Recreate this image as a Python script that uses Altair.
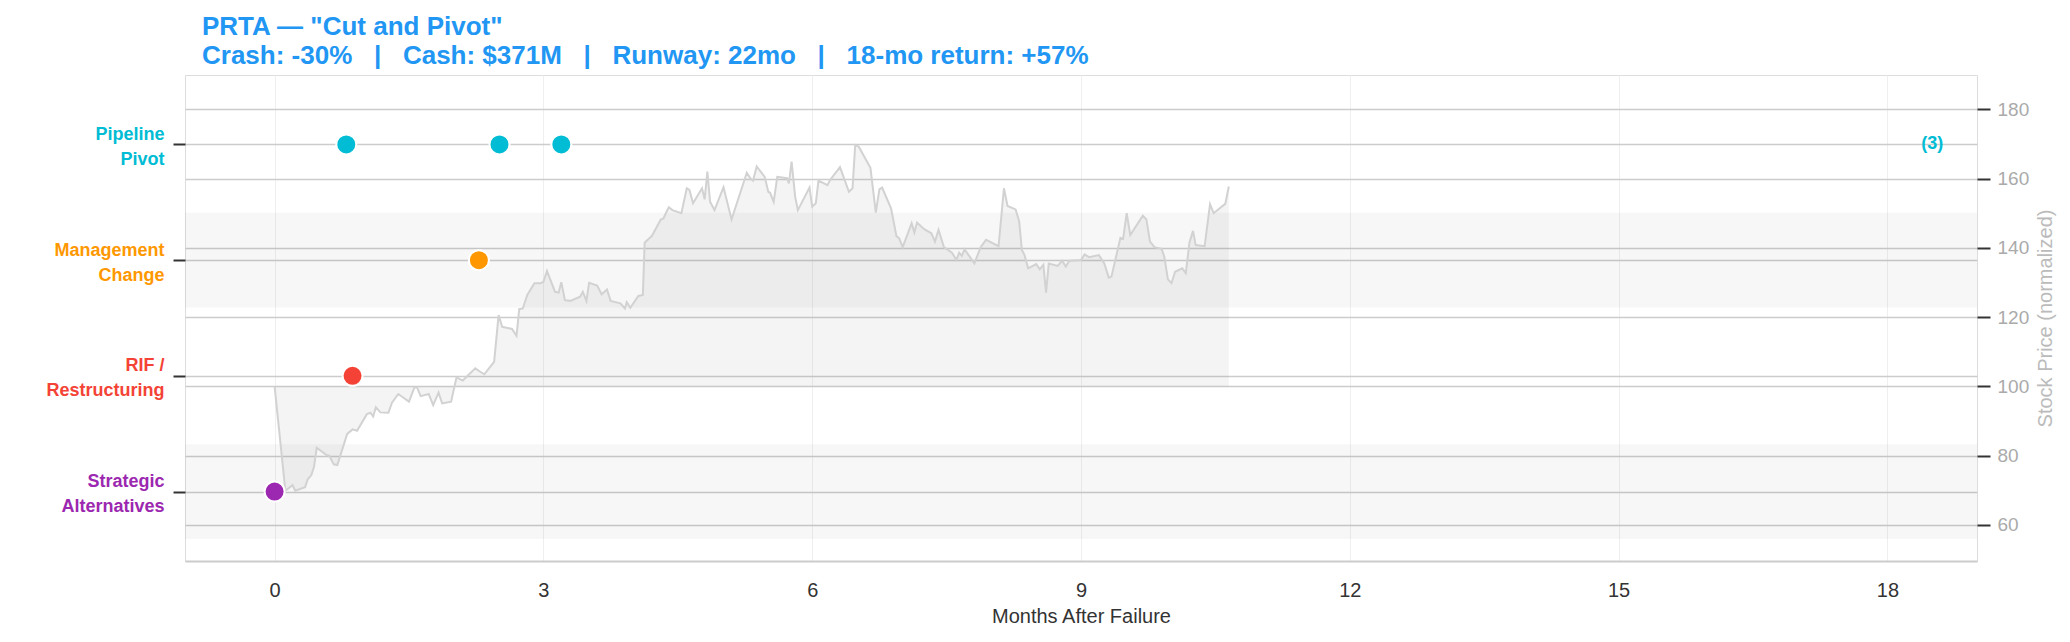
import altair as alt
import pandas as pd

FONT = "Liberation Sans"

# ---------------- data ----------------
title_lines = [
    'PRTA \u2014 "Cut and Pivot"',
    "Crash: -30%\u00a0\u00a0\u00a0|\u00a0\u00a0\u00a0Cash: $371M\u00a0\u00a0\u00a0|\u00a0\u00a0\u00a0"
    "Runway: 22mo\u00a0\u00a0\u00a0|\u00a0\u00a0\u00a018-mo return: +57%",
]

categories = ["Strategic Alternatives", "RIF / Restructuring", "Management Change", "Pipeline Pivot"]
category_lines = [["Strategic", "Alternatives"], ["RIF /", "Restructuring"],
                  ["Management", "Change"], ["Pipeline", "Pivot"]]
category_colors = ["#9C27B0", "#F44336", "#FF9800", "#00BCD4"]

event_category = ["Strategic Alternatives", "RIF / Restructuring", "Management Change",
                  "Pipeline Pivot", "Pipeline Pivot", "Pipeline Pivot"]
event_month = [0.00, 0.87, 2.28, 0.80, 2.51, 3.20]

price_month = [
    0.00, 0.12, 0.20, 0.23, 0.34, 0.37, 0.41, 0.44, 0.47, 0.58, 0.61, 0.66, 0.70, 0.81, 0.87, 0.92,
    1.03, 1.07, 1.10, 1.13, 1.18, 1.27, 1.31, 1.38, 1.50, 1.56, 1.59, 1.63, 1.72, 1.77, 1.83, 1.87,
    1.97, 2.03, 2.10, 2.24, 2.29, 2.34, 2.45, 2.50, 2.54, 2.65, 2.70, 2.73, 2.77, 2.82, 2.90, 2.97,
    3.00, 3.04, 3.13, 3.17, 3.20, 3.24, 3.30, 3.41, 3.44, 3.48, 3.51, 3.60, 3.65, 3.71, 3.75, 3.86,
    3.91, 3.93, 3.97, 4.06, 4.11, 4.13, 4.17, 4.21, 4.31, 4.34, 4.37, 4.40, 4.44, 4.54, 4.60, 4.63,
    4.67, 4.77, 4.80, 4.83, 4.86, 4.91, 5.01, 5.10, 5.27, 5.31, 5.34, 5.38, 5.47, 5.51, 5.53, 5.57,
    5.61, 5.72, 5.74, 5.77, 5.81, 5.84, 5.97, 6.00, 6.04, 6.07, 6.17, 6.20, 6.31, 6.41, 6.45, 6.48,
    6.52, 6.65, 6.71, 6.75, 6.78, 6.88, 6.94, 6.97, 7.01, 7.11, 7.14, 7.17, 7.25, 7.33, 7.37, 7.41,
    7.47, 7.56, 7.61, 7.64, 7.67, 7.70, 7.81, 7.88, 7.94, 8.08, 8.14, 8.18, 8.27, 8.31, 8.34, 8.37,
    8.41, 8.50, 8.54, 8.58, 8.61, 8.64, 8.74, 8.79, 8.83, 8.87, 9.00, 9.04, 9.09, 9.20, 9.26, 9.31,
    9.34, 9.44, 9.47, 9.51, 9.55, 9.69, 9.73, 9.77, 9.82, 9.90, 9.93, 9.97, 10.01, 10.05, 10.13, 10.17,
    10.21, 10.25, 10.28, 10.38, 10.44, 10.48, 10.61, 10.65,
]
price_value = [
    100.0, 69.9, 71.5, 69.9, 70.9, 73.2, 74.4, 76.8, 82.3, 80.2, 80.0, 77.5, 77.3, 86.3, 87.6, 87.2,
    92.0, 92.4, 91.3, 94.0, 92.5, 92.4, 95.3, 97.8, 95.6, 99.7, 99.7, 97.2, 97.8, 94.6, 98.2, 95.1,
    95.6, 102.6, 101.7, 105.2, 104.3, 103.5, 107.1, 120.6, 117.2, 116.6, 114.6, 122.3, 122.5, 126.4, 129.8, 129.8,
    130.2, 133.3, 127.3, 127.1, 130.1, 124.9, 124.7, 125.9, 127.3, 124.7, 129.9, 129.1, 126.6, 128.0, 124.7, 124.0,
    122.5, 124.3, 122.7, 126.1, 126.4, 141.5, 142.5, 143.4, 148.2, 148.5, 150.2, 151.7, 150.9, 150.0, 157.2, 156.7,
    152.9, 157.2, 154.0, 162.0, 153.3, 150.9, 157.5, 148.2, 161.7, 160.1, 159.4, 163.5, 160.5, 156.2, 155.9, 153.3,
    160.5, 160.1, 158.6, 164.9, 154.8, 150.9, 157.4, 151.9, 152.9, 159.4, 158.1, 159.6, 163.3, 156.2, 157.2, 169.7,
    169.2, 163.1, 150.2, 156.9, 157.4, 151.4, 143.4, 142.8, 140.2, 147.1, 144.4, 147.3, 145.4, 144.2, 141.8, 145.2,
    140.2, 138.6, 136.5, 138.6, 137.7, 139.6, 135.5, 140.2, 142.3, 140.5, 157.2, 152.1, 151.1, 147.6, 139.4, 137.9,
    134.1, 135.3, 133.8, 135.1, 127.1, 135.5, 134.8, 136.3, 134.6, 136.3, 136.5, 138.1, 137.3, 137.9, 135.5, 131.4,
    131.7, 142.9, 142.6, 150.0, 143.7, 149.3, 148.2, 141.8, 140.2, 139.7, 137.4, 130.9, 129.8, 133.1, 134.1, 132.7,
    141.5, 144.9, 140.8, 140.5, 152.6, 150.0, 152.7, 157.7,
]
price_baseline = 100

x_ticks = [0, 3, 6, 9, 12, 15, 18]
price_ticks = [60, 80, 100, 120, 140, 160, 180]

# ---------------- tables ----------------
W, H = 1792, 486
BAND_HALF = 0.41

ev_df = pd.DataFrame({"month": event_month, "category": event_category})
ev_df["idx"] = [categories.index(c) for c in event_category]

counts = ev_df.groupby("category").size()
cnt_df = pd.DataFrame({"category": [c for c in categories if counts.get(c, 0) > 1]})
cnt_df["idx"] = [categories.index(c) for c in cnt_df["category"]]
cnt_df["label"] = ["(%d)" % counts[c] for c in cnt_df["category"]]

band_idx = [i for i in range(len(categories)) if i % 2 == 0]
band_df = pd.DataFrame({"lo": [i - BAND_HALF for i in band_idx], "hi": [i + BAND_HALF for i in band_idx]})

price_df = pd.DataFrame({"month": price_month, "price": price_value})

# ---------------- scales / axes ----------------
x_scale = alt.Scale(domain=[-1, 19], nice=False, zero=False)
x_axis = alt.Axis(values=x_ticks, format="d", title="Months After Failure", grid=True, gridColor="#efefef",
                  gridWidth=1, domain=True, domainColor="#cccccc", domainWidth=2, ticks=False,
                  tickSize=0, labelFontSize=20, labelColor="#333333", labelPadding=19, labelFont=FONT,
                  titleFontSize=20, titleFontWeight="normal", titleColor="#333333", titlePadding=6,
                  titleFont=FONT)
X = alt.X("month:Q", scale=x_scale, axis=x_axis)

cat_scale = alt.Scale(domain=[-0.6, 3.6], nice=False, zero=False)
label_expr = " : ".join(
    "datum.value == %d ? [%s]" % (i, ", ".join("'%s'" % s for s in lines))
    for i, lines in enumerate(category_lines)
) + " : ''"
label_color = {
    "condition": [{"test": "datum.value == %d" % i, "value": c} for i, c in enumerate(category_colors)],
    "value": "#333333",
}
left_axis = alt.Axis(orient="left", values=list(range(len(categories))), labelExpr=label_expr,
                     labelColor=label_color, labelFontSize=18, labelFontWeight="bold", labelFont=FONT,
                     labelLineHeight=25, labelPadding=9, labelBaseline="middle", labelOffset=-10,
                     grid=True, gridColor="#cccccc", gridWidth=1.6, domain=False,
                     ticks=True, tickSize=12, tickWidth=2, tickColor="#333333", title=None)

price_scale = alt.Scale(domain=[49.6, 189.9], nice=False, zero=False)
right_axis = alt.Axis(orient="right", values=price_ticks, grid=True, gridColor="#cccccc", gridWidth=1.6,
                      domain=False, ticks=True, tickSize=13, tickWidth=2, tickColor="#333333",
                      labelFontSize=19, labelColor="#aaaaaa", labelPadding=7, labelFont=FONT,
                      title="Stock Price (normalized)", titleFontSize=20, titleFontWeight="normal",
                      titleColor="#bbbbbb", titleAngle=270, titlePadding=27, titleFont=FONT)

color_enc = alt.Color("category:N", scale=alt.Scale(domain=categories, range=category_colors), legend=None)

# ---------------- layers ----------------
bands = alt.Chart(band_df).mark_rect(color="black", opacity=0.03).encode(
    x=alt.value(0), x2=alt.value(W),
    y=alt.Y("lo:Q", scale=cat_scale, axis=None), y2="hi:Q",
)

area = alt.Chart(price_df).mark_area(color="#808080", opacity=0.09).encode(
    x=X, y=alt.Y("price:Q", scale=price_scale, axis=right_axis), y2=alt.datum(price_baseline),
)
line = alt.Chart(price_df).mark_line(color="#d2d2d2", strokeWidth=2).encode(
    x=X, y=alt.Y("price:Q", scale=price_scale, axis=right_axis),
)

dots = alt.Chart(ev_df).mark_point(filled=True, shape="circle", size=400, opacity=1,
                                   stroke="white", strokeWidth=2).encode(
    x=X, y=alt.Y("idx:Q", scale=cat_scale, axis=left_axis), color=color_enc,
    fill=alt.Fill("category:N", scale=alt.Scale(domain=categories, range=category_colors), legend=None),
)
count_text = alt.Chart(cnt_df).mark_text(font=FONT, fontSize=18, fontWeight="bold").encode(
    x=alt.datum(18.5), y=alt.Y("idx:Q", scale=cat_scale, axis=left_axis), text="label:N",
    color=color_enc,
)

chart = alt.layer(
    bands,
    alt.layer(area, line),
    alt.layer(dots, count_text),
).resolve_scale(y="independent").properties(
    width=W, height=H,
    padding={"left": 177, "top": 67, "right": 85, "bottom": 73},
    autosize=alt.AutoSizeParams(type="none"),
    title=alt.TitleParams(text=title_lines, anchor="start", frame="group", fontSize=26, dx=17,
                          fontWeight="bold", color="#2196F3", lineHeight=29, offset=6, font=FONT),
).configure_view(stroke=None).configure(font=FONT, background="white")

chart.save("out.html", embed_options={"renderer": "svg", "actions": False})
